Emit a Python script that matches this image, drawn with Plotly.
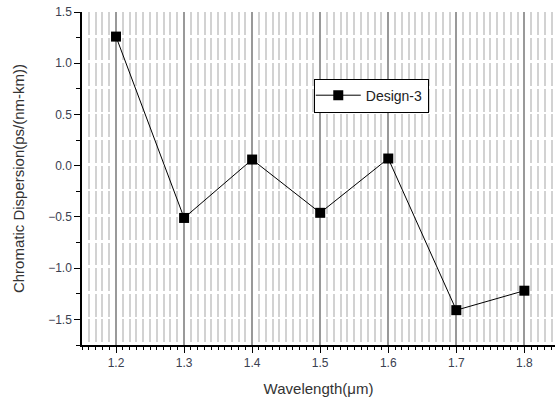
import plotly.graph_objects as go

wavelength = [1.2, 1.3, 1.4, 1.5, 1.6, 1.7, 1.8]
dispersion = [1.26, -0.51, 0.06, -0.46, 0.07, -1.41, -1.22]
series_name = "Design-3"

W, H = 558, 401
ml, mr, mt, mb = 82, 3, 12, 56
ph = H - mt - mb
yr = [-1.75, 1.5]
px_per_unit = ph / (yr[1] - yr[0])
period = 0.25 * px_per_unit
dash = f"{period-2.8:.2f}px,2.8px"

fig = go.Figure()
fig.add_trace(go.Scatter(
    x=wavelength, y=dispersion, mode="lines+markers", name=series_name,
    line=dict(color="black", width=1),
    marker=dict(symbol="square", size=10, color="black"),
))

font = "Liberation Sans, Arial, sans-serif"
fig.update_layout(
    width=W, height=H,
    margin=dict(l=ml, r=mr, t=mt, b=mb, autoexpand=False),
    paper_bgcolor="white", plot_bgcolor="white",
    font=dict(family=font, color="#333"),
    showlegend=True,
    legend=dict(x=0.49, y=0.8, xanchor="left", yanchor="top",
                bgcolor="white", bordercolor="black", borderwidth=1,
                font=dict(size=14, color="#222"), itemwidth=45,
                tracegroupgap=0, indentation=-4),
)
fig.update_xaxes(
    range=[1.15, 1.845], tick0=1.2, dtick=0.1, tickformat=".1f",
    automargin=False,
    showline=True, linecolor="black", linewidth=1.5,
    ticks="outside", ticklen=6, tickcolor="black",
    tickfont=dict(size=12, color="#3a4050"),
    showgrid=True, gridcolor="#999", gridwidth=1.5,
    zeroline=False,
    minor=dict(dtick=0.01, tick0=1.2, ticks="outside", ticklen=3, tickcolor="black",
               showgrid=True, gridcolor="#d2d2d2", gridwidth=1.5, griddash=dash),
    title=dict(text="Wavelength(μm)", font=dict(size=15, color="#333"), standoff=14),
)
fig.update_yaxes(
    range=yr, tick0=-1.5, dtick=0.5, tickformat=".1f",
    automargin=False,
    showline=True, linecolor="black", linewidth=1.5,
    ticks="outside", ticklen=6, tickcolor="black",
    tickfont=dict(size=12, color="#3a4050"),
    showgrid=False, zeroline=False,
    minor=dict(dtick=0.25, tick0=-1.5, ticks="outside", ticklen=4, tickcolor="black", showgrid=False),
    title=dict(text="Chromatic Dispersion(ps/(nm-km))", font=dict(size=15, color="#333"), standoff=20),
)
fig.write_html("out.html", config={"displayModeBar": False},
               post_script="document.body.style.margin='0px';")
